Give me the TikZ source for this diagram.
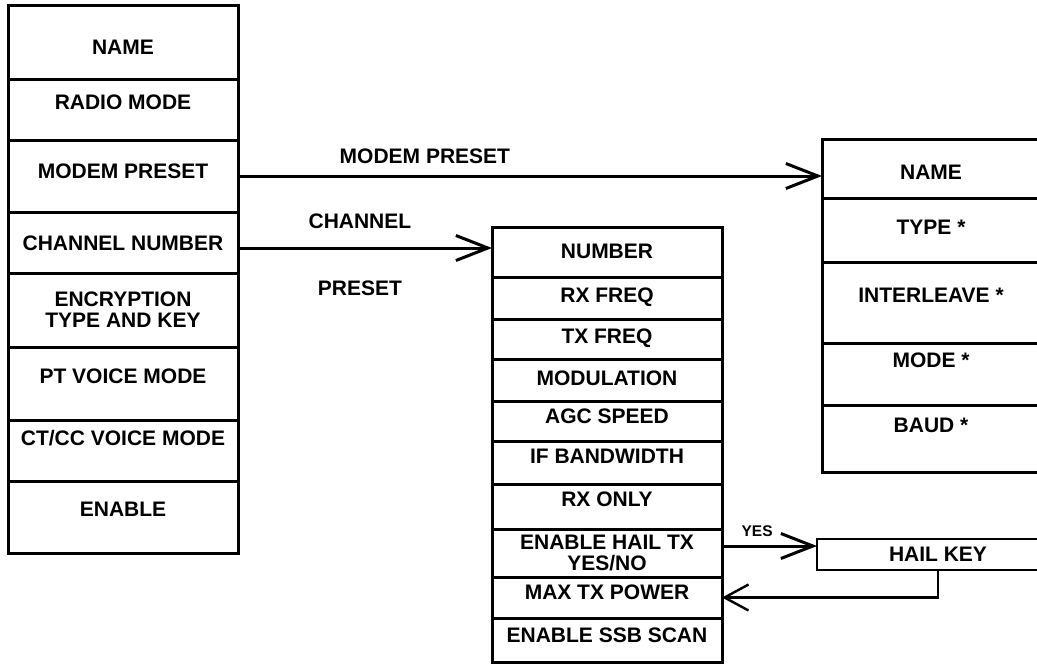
\documentclass[tikz,border=0pt]{standalone}
\usepackage{fontspec}
\setmainfont{Liberation Sans}
\usetikzlibrary{positioning,arrows.meta}
\newcommand\cellfont{\fontsize{10.5}{10.5}\selectfont\bfseries}
\tikzset{
  cell/.style={draw, line width=1.5pt, inner sep=0pt, outer sep=0pt,
    align=center, font=\cellfont, minimum width=#1},
  cell/.default=115pt,
  lift/.style={text height=7.5pt, text depth=#1},
  sink/.style={text height=#1, text depth=0pt},
  link/.style={line width=1.5pt, -{Straight Barb[length=16pt, width=12.5pt]}},
  tag/.style={inner sep=0pt, font=\cellfont},
}
\begin{document}
\begin{tikzpicture}[x=0.5pt, y=-0.5pt]
\useasboundingbox (0,0) rectangle (1037,664);
\clip (0,0) rectangle (1037,664);

\node[cell, minimum height=37pt, sink=12.5pt, anchor=north west] (name) at (8,5) {NAME};
\node[cell, minimum height=30.5pt, lift=8pt, below=0pt of name] (radio) {RADIO MODE};
\node[cell, minimum height=36pt, lift=5pt, below=0pt of radio] (mpreset) {MODEM PRESET};
\node[cell, minimum height=30.5pt, lift=0pt, below=0pt of mpreset] (chnum) {CHANNEL NUMBER};
\node[cell, minimum height=37pt, below=0pt of chnum] (crypt) {ENCRYPTION\\TYPE AND KEY};
\node[cell, minimum height=36.5pt, lift=7.5pt, below=0pt of crypt] (ptvoice) {PT VOICE MODE};
\node[cell, minimum height=30.5pt, lift=12.5pt, below=0pt of ptvoice] (ctvoice) {CT/CC VOICE MODE};
\node[cell, minimum height=36pt, lift=8pt, below=0pt of ctvoice] (enable) {ENABLE};

\node[cell, minimum height=25pt, lift=1.3pt, anchor=north west] (number) at (492,227) {NUMBER};
\node[cell, minimum height=21pt, lift=3pt, below=0pt of number] (rxfreq) {RX FREQ};
\node[cell, minimum height=20pt, lift=3pt, below=0pt of rxfreq] (txfreq) {TX FREQ};
\node[cell, minimum height=21pt, lift=2pt, below=0pt of txfreq] (modul) {MODULATION};
\node[cell, minimum height=20pt, lift=5pt, below=0pt of modul] (agc) {AGC SPEED};
\node[cell, minimum height=21.5pt, lift=6.5pt, below=0pt of agc] (ifbw) {IF BANDWIDTH};
\node[cell, minimum height=22.5pt, lift=7.5pt, below=0pt of ifbw] (rxonly) {RX ONLY};
\node[cell, minimum height=24pt, below=0pt of rxonly] (hailtx) {ENABLE HAIL TX\\YES/NO};
\node[cell, minimum height=20.5pt, lift=5.5pt, below=0pt of hailtx] (maxtx) {MAX TX POWER};
\node[cell, minimum height=22pt, lift=5pt, below=0pt of maxtx] (ssb) {ENABLE SSB SCAN};

\node[cell=109pt, minimum height=29.5pt, sink=11pt, anchor=north west] (pname) at (822,139) {NAME};
\node[cell=109pt, minimum height=32pt, lift=3pt, below=0pt of pname] (ptype) {TYPE *};
\node[cell=109pt, minimum height=40.5pt, lift=7.5pt, below=0pt of ptype] (pinter) {INTERLEAVE *};
\node[cell=109pt, minimum height=31pt, lift=14pt, below=0pt of pinter] (pmode) {MODE *};
\node[cell=109pt, minimum height=33.5pt, lift=13.5pt, below=0pt of pmode] (pbaud) {BAUD *};

\node[cell=121pt, minimum height=15.5pt, line width=1.2pt, anchor=north west] (hail) at (817,539) {HAIL KEY};

\draw[link] (mpreset.east) -- (mpreset.east -| pname.west)
  node[tag, pos=0.32, above=5.25pt] (mplabel) {MODEM PRESET};
\draw[link] ([yshift=-2.75pt]chnum.east) -- ([yshift=-2.75pt]chnum.east -| number.west)
  node[tag, pos=0.48, above=8.75pt] (chlabel) {CHANNEL}
  node[tag, pos=0.48, below=15.75pt] (prlabel) {PRESET};
\draw[link] ([yshift=3.5pt]hailtx.east) -- ([yshift=3.5pt]hailtx.east -| hail.west)
  node[tag, font=\fontsize{7.75}{8}\selectfont\bfseries, pos=0.37, above=3.75pt] (yes) {YES};
\draw[line width=1.2pt, -{Straight Barb[length=12pt, width=13pt]}] (hail.south) |- (maxtx.east);
\end{tikzpicture}
\end{document}
